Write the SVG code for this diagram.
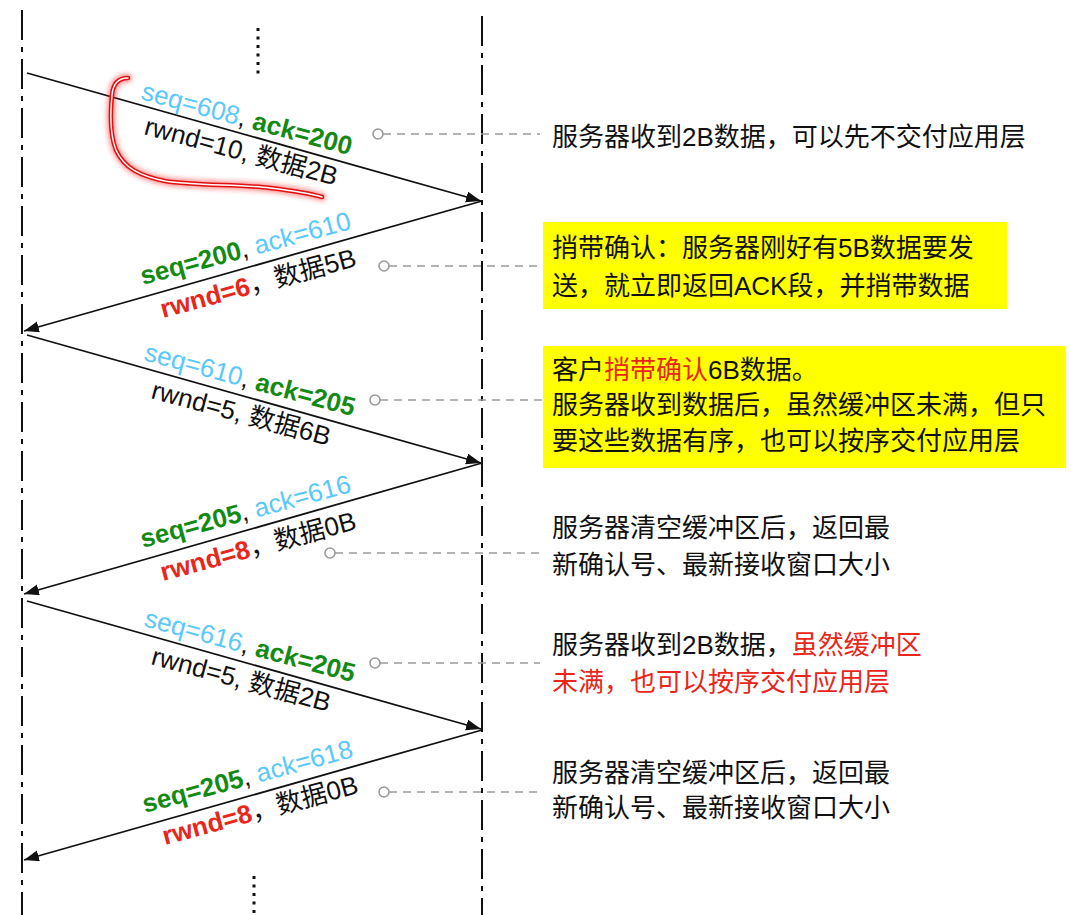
<svg xmlns="http://www.w3.org/2000/svg" width="1071" height="915" viewBox="0 0 1071 915">
<style>
.life{stroke:#111;stroke-width:2;stroke-dasharray:30 7 5 7;fill:none}
.dots{stroke:#111;stroke-width:3;stroke-dasharray:3 5.5;fill:none}
.msg{stroke:#111;stroke-width:1.8;fill:none;marker-end:url(#ah)}
.lead{stroke:#9a9a9a;stroke-width:1.6;stroke-dasharray:8 6;fill:none}
.pin{stroke:#9a9a9a;stroke-width:1.6;fill:#fff}
.lbl{font-family:"Liberation Sans","Noto Sans CJK SC",sans-serif;font-size:26px;fill:#111}
.note{font-family:"Liberation Sans","Noto Sans CJK SC",sans-serif;font-size:26px;fill:#111}
.b{fill:#5ac8fa}
.g{fill:#138a13;font-weight:bold}
.r{fill:#e8261a;font-weight:bold}
.nr{fill:#e8261a}
.box{fill:#ffff00}
</style>
<defs>
<marker id="ah" markerUnits="userSpaceOnUse" markerWidth="16" markerHeight="12" refX="15" refY="5.5" orient="auto">
<path d="M0,0 L15,5.5 L0,11 z" fill="#111"/>
</marker>
<filter id="glow" x="-20%" y="-20%" width="140%" height="140%">
<feGaussianBlur stdDeviation="2.5"/>
</filter>
</defs>
<rect width="1071" height="915" fill="#fff"/>

<g id="lifelines">
<line class="life" x1="22" y1="10" x2="22" y2="915"/>
<line class="life" x1="482" y1="16" x2="482" y2="915"/>
<line class="dots" x1="258" y1="28" x2="258" y2="76"/>
<line class="dots" x1="254" y1="876" x2="254" y2="915"/>
</g>

<g id="connectors">
<line class="msg" x1="27" y1="73" x2="481" y2="201"/>
<line class="msg" x1="482" y1="201" x2="24" y2="331"/>
<line class="msg" x1="27" y1="335" x2="481" y2="463"/>
<line class="msg" x1="482" y1="463" x2="24" y2="594"/>
<line class="msg" x1="27" y1="601" x2="481" y2="729"/>
<line class="msg" x1="482" y1="730" x2="24" y2="860"/>
<line class="lead" x1="383" y1="134" x2="540" y2="134"/>
<circle class="pin" cx="378" cy="134" r="5"/>
<line class="lead" x1="389" y1="266" x2="543" y2="266"/>
<circle class="pin" cx="384" cy="266" r="5"/>
<line class="lead" x1="380" y1="400" x2="543" y2="400"/>
<circle class="pin" cx="375" cy="400" r="5"/>
<line class="lead" x1="335" y1="553" x2="540" y2="553"/>
<circle class="pin" cx="330" cy="553" r="5"/>
<line class="lead" x1="380" y1="663" x2="540" y2="663"/>
<circle class="pin" cx="375" cy="663" r="5"/>
<line class="lead" x1="389" y1="792" x2="540" y2="792"/>
<circle class="pin" cx="384" cy="792" r="5"/>
</g>

<g id="scribble" fill="none" stroke-linecap="round" stroke-linejoin="round">
<path d="M128,78 C118,78 113,84 112,95 C110,115 110,135 116,150 C124,168 140,176 165,181 C195,186 240,184 270,188 C295,191 312,194 322,197" stroke="#ff2020" stroke-width="8" opacity="0.5" filter="url(#glow)"/>
<path d="M128,78 C118,78 113,84 112,95 C110,115 110,135 116,150 C124,168 140,176 165,181 C195,186 240,184 270,188 C295,191 312,194 322,197" stroke="#e01010" stroke-width="4.5"/>
<path d="M128,78 C118,78 113,84 112,95 C110,115 110,135 116,150 C124,168 140,176 165,181 C195,186 240,184 270,188 C295,191 312,194 322,197" stroke="#fff" stroke-width="1.4"/>
</g>

<g id="label1">
<text class="lbl" transform="translate(140,99) rotate(15)"><tspan class="b">seq=608</tspan>, <tspan class="g">ack=200</tspan></text>
<text class="lbl" transform="translate(143,134) rotate(15)">rwnd=10, 数据2B</text>
</g>
<g id="label2">
<text class="lbl" transform="translate(143,285) rotate(-15)"><tspan class="g">seq=200</tspan>, <tspan class="b">ack=610</tspan></text>
<text class="lbl" transform="translate(163,318) rotate(-15)"><tspan class="r">rwnd=6</tspan>，数据5B</text>
</g>
<g id="label3">
<text class="lbl" transform="translate(143,360) rotate(15)"><tspan class="b">seq=610</tspan>, <tspan class="g">ack=205</tspan></text>
<text class="lbl" transform="translate(150,398) rotate(15)">rwnd=5, 数据6B</text>
</g>
<g id="label4">
<text class="lbl" transform="translate(143,548) rotate(-15)"><tspan class="g">seq=205</tspan>, <tspan class="b">ack=616</tspan></text>
<text class="lbl" transform="translate(163,581) rotate(-15)"><tspan class="r">rwnd=8</tspan>，数据0B</text>
</g>
<g id="label5">
<text class="lbl" transform="translate(143,626) rotate(15)"><tspan class="b">seq=616</tspan>, <tspan class="g">ack=205</tspan></text>
<text class="lbl" transform="translate(150,664) rotate(15)">rwnd=5, 数据2B</text>
</g>
<g id="label6">
<text class="lbl" transform="translate(145,813) rotate(-15)"><tspan class="g">seq=205</tspan>, <tspan class="b">ack=618</tspan></text>
<text class="lbl" transform="translate(165,845) rotate(-15)"><tspan class="r">rwnd=8</tspan>，数据0B</text>
</g>

<g id="note1">
<text class="note" x="552" y="146">服务器收到2B数据，可以先不交付应用层</text>
</g>
<g id="note2">
<rect class="box" x="543" y="222" width="464" height="87"/>
<text class="note" x="552" y="257">捎带确认：服务器刚好有5B数据要发</text>
<text class="note" x="552" y="295">送，就立即返回ACK段，并捎带数据</text>
</g>
<g id="note3">
<rect class="box" x="543" y="346" width="523" height="122"/>
<text class="note" x="552" y="379">客户<tspan class="nr">捎带确认</tspan>6B数据。</text>
<text class="note" x="552" y="414">服务器收到数据后，虽然缓冲区未满，但只</text>
<text class="note" x="552" y="450">要这些数据有序，也可以按序交付应用层</text>
</g>
<g id="note4">
<text class="note" x="552" y="537">服务器清空缓冲区后，返回最</text>
<text class="note" x="552" y="574">新确认号、最新接收窗口大小</text>
</g>
<g id="note5">
<text class="note" x="552" y="654">服务器收到2B数据，<tspan class="nr">虽然缓冲区</tspan></text>
<text class="note nr" x="552" y="691">未满，也可以按序交付应用层</text>
</g>
<g id="note6">
<text class="note" x="552" y="782">服务器清空缓冲区后，返回最</text>
<text class="note" x="552" y="817">新确认号、最新接收窗口大小</text>
</g>
</svg>
